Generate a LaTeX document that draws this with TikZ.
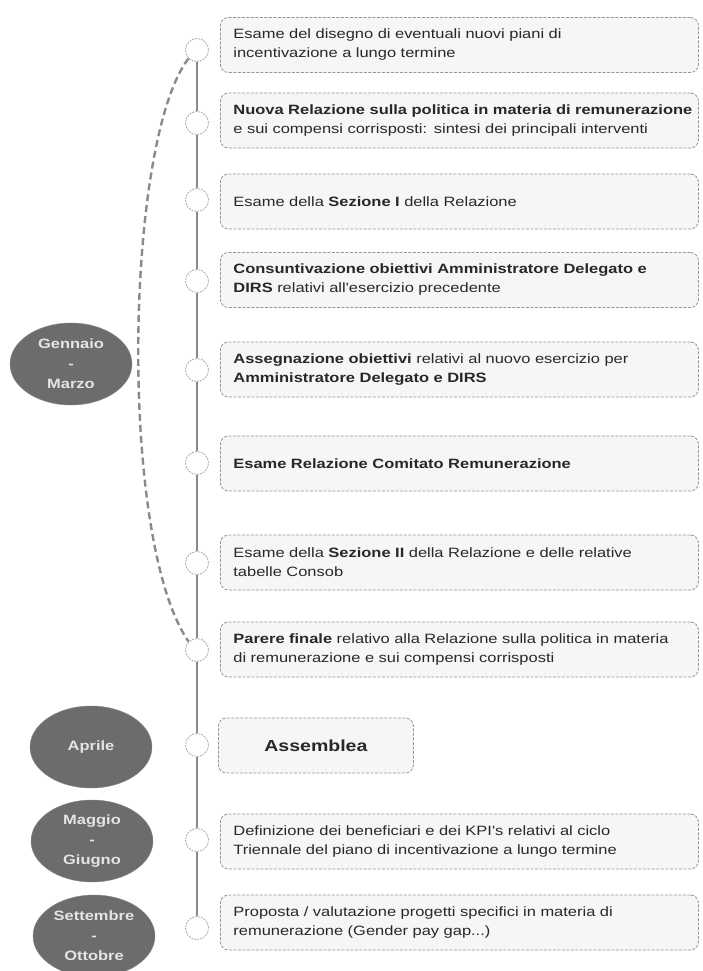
\documentclass[tikz,border=0pt]{standalone}
\usepackage{fontspec}
\usepackage{xcolor}
\usepackage{tikz}
\usetikzlibrary{positioning,shapes.geometric}
\newfontfamily\boxfont[FakeStretch=1.22]{Liberation Sans}
\definecolor{tlline}{RGB}{138,138,138}
\definecolor{tldot}{RGB}{170,170,170}
\definecolor{tlbox}{RGB}{246,246,246}
\definecolor{tledge}{RGB}{150,150,150}
\definecolor{tlmonth}{RGB}{108,108,108}
\definecolor{tltext}{RGB}{40,40,40}

\begin{document}
\begin{tikzpicture}[
  x=1pt, y=-1pt,
  dot/.style={circle, draw=tldot, fill=white, line width=0.8pt,
    dash pattern=on 2pt off 1pt, minimum size=23pt, inner sep=0pt},
  boxbase/.style={rounded corners=8pt, draw=tledge, fill=tlbox, line width=0.8pt,
    dash pattern=on 3pt off 1.5pt, anchor=west, minimum height=55pt, text=tltext},
  act/.style={boxbase, align=left, text width=452pt, inner xsep=13pt,
    font=\boxfont\fontsize{13.5}{19}\selectfont},
  meet/.style={boxbase, align=center, minimum width=195pt,
    font=\boxfont\bfseries\fontsize{16}{19}\selectfont},
  month/.style={ellipse, fill=tlmonth, draw=tlmonth!80, inner sep=0pt,
    minimum width=122pt, minimum height=82pt, align=center, text=white!90!black,
    font=\boxfont\bfseries\fontsize{13.5}{20}\selectfont},
  spine/.style={draw=tlline, line width=2.2pt},
  arc/.style={draw=tlline, line width=2.4pt, dash pattern=on 7pt off 4pt}
]
  \useasboundingbox (0,0) rectangle (702,971);

  % --- Timeline dots ---
  \node[dot] (dot1)  at (197,50)  {};
  \node[dot] (dot2)  at (197,123) {};
  \node[dot] (dot3)  at (197,200) {};
  \node[dot] (dot4)  at (197,281) {};
  \node[dot] (dot5)  at (197,370) {};
  \node[dot] (dot6)  at (197,463) {};
  \node[dot] (dot7)  at (197,563) {};
  \node[dot] (dot8)  at (197,650) {};
  \node[dot] (dot9)  at (197,745) {};
  \node[dot] (dot10) at (197,840) {};
  \node[dot] (dot11) at (197,928) {};

  \foreach \i/\j in {1/2,2/3,3/4,4/5,5/6,6/7,7/8,8/9,9/10,10/11}
    \draw[spine] (dot\i) -- (dot\j);

  % --- Activities ---
  \node[act] (act1) at (220,45)
    {Esame del disegno di eventuali nuovi piani di\\incentivazione a lungo termine};
  \node[act] (act2) at (220,120.5)
    {\mbox{\bfseries Nuova Relazione sulla politica in materia di remunerazione}\\
     e sui compensi corrisposti: sintesi dei principali interventi};
  \node[act] (act3) at (220,201.5)
    {Esame della \textbf{Sezione I} della Relazione};
  \node[act] (act4) at (220,280)
    {\textbf{Consuntivazione obiettivi Amministratore Delegato e}\\
     \textbf{DIRS} relativi all'esercizio precedente};
  \node[act] (act5) at (220,369.5)
    {\textbf{Assegnazione obiettivi} relativi al nuovo esercizio per\\
     \textbf{Amministratore Delegato e DIRS}};
  \node[act] (act6) at (220,463.5)
    {\textbf{Esame Relazione Comitato Remunerazione}};
  \node[act] (act7) at (220,562.5)
    {Esame della \textbf{Sezione II} della Relazione e delle relative\\tabelle Consob};
  \node[act] (act8) at (220,649.5)
    {\textbf{Parere finale} relativo alla Relazione sulla politica in materia\\
     di remunerazione e sui compensi corrisposti};
  \node[meet] (act9) at (218,745.5) {Assemblea};
  \node[act] (act10) at (220,841.5)
    {Definizione dei beneficiari e dei KPI's relativi al ciclo\\
     Triennale del piano di incentivazione a lungo termine};
  \node[act] (act11) at (220,922.5)
    {Proposta / valutazione progetti specifici in materia di\\
     remunerazione (Gender pay gap...)};

  % --- Periods ---
  \node[month] (gen) at (71,364)  {Gennaio\\-\\Marzo};
  \node[month] (apr) at (91,747)  {Aprile};
  \node[month] (mag) at (92,841)  {Maggio\\-\\Giugno};
  \node[month] (set) at (94,936)  {Settembre\\-\\Ottobre};

  % --- Span of the first period ---
  \draw[arc] (dot1.south west) .. controls (125,140) and (118,540) .. (dot8.north west);
\end{tikzpicture}
\end{document}
